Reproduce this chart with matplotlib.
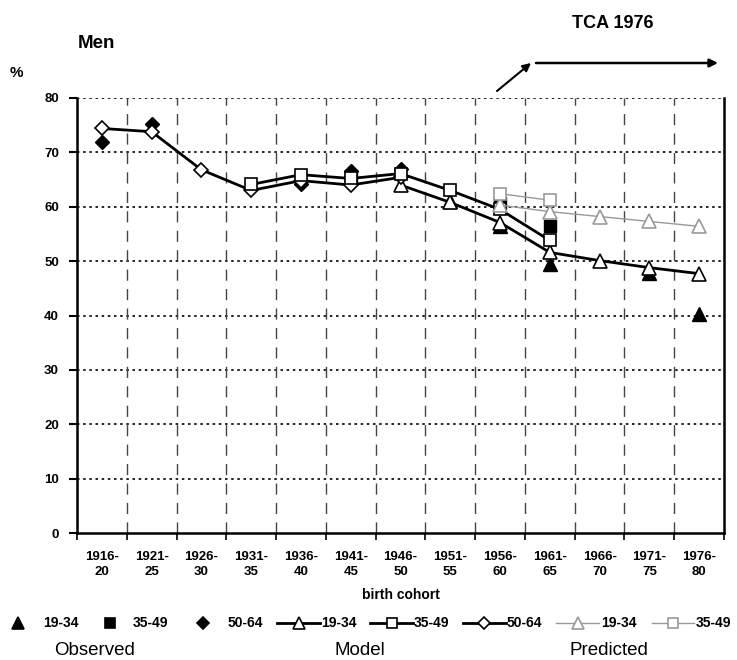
import matplotlib
matplotlib.use("Agg")
import matplotlib.pyplot as plt
from matplotlib.lines import Line2D
import numpy as np

plt.rcParams['font.family'] = ['Liberation Sans', 'DejaVu Sans']

cohorts = ['1916-\n20', '1921-\n25', '1926-\n30', '1931-\n35', '1936-\n40', '1941-\n45',
           '1946-\n50', '1951-\n55', '1956-\n60', '1961-\n65', '1966-\n70', '1971-\n75',
           '1976-\n80']
nan = np.nan

# observed
obs_19_34 = [nan, nan, nan, nan, nan, nan, nan, 61.0, 56.5, 49.5, nan, 47.8, 40.3]
obs_35_49 = [nan, nan, nan, nan, nan, 65.6, nan, nan, 60.6, 56.5, nan, nan, nan]
obs_50_64 = [72.0, 75.2, nan, nan, 64.2, 66.5, 66.9, nan, nan, nan, nan, nan, nan]
# model
mod_19_34 = [nan, nan, nan, nan, nan, nan, 64.0, 60.8, 57.1, 51.6, 50.1, 48.8, 47.7]
mod_35_49 = [nan, nan, nan, 64.1, 65.9, 65.2, 66.1, 63.0, 59.5, 53.8, nan, nan, nan]
mod_50_64 = [74.4, 73.8, 66.8, 63.0, 64.8, 64.0, 65.4, nan, nan, nan, nan, nan, nan]
# predicted
pred_19_34 = [nan, nan, nan, nan, nan, nan, nan, nan, 60.3, 59.1, 58.2, 57.3, 56.4]
pred_35_49 = [nan, nan, nan, nan, nan, nan, nan, nan, 62.4, 61.2, nan, nan, nan]

W, H = 737, 660
fig = plt.figure(figsize=(W / 100, H / 100), dpi=100)
ax = fig.add_axes([77 / W, 1 - 533 / H, (724 - 77) / W, (533 - 98) / H])

x = np.arange(len(cohorts))
ms_tri, ms_sq, ms_dia = 9.5, 8, 7

# observed (drawn first, sits below)
ax.plot(x, obs_19_34, ls='none', marker='^', ms=ms_tri, color='black', zorder=3)
ax.plot(x, obs_35_49, ls='none', marker='s', ms=ms_sq, color='black', zorder=3)
ax.plot(x, obs_50_64, ls='none', marker='D', ms=ms_dia, color='black', zorder=3)

# model
ax.plot(x, mod_19_34, color='black', lw=2, marker='^', ms=ms_tri, mfc='white', mec='black', mew=1.2, zorder=4)
ax.plot(x, mod_50_64, color='black', lw=2, marker='D', ms=ms_dia, mfc='white', mec='black', mew=1.2, zorder=4)
ax.plot(x, mod_35_49, color='black', lw=2, marker='s', ms=ms_sq, mfc='white', mec='black', mew=1.2, zorder=4)

# predicted
ax.plot(x, pred_19_34, color='#999999', lw=1, marker='^', ms=ms_tri, mfc='white', mec='#999999', mew=1.2, zorder=5)
ax.plot(x, pred_35_49, color='#999999', lw=1, marker='s', ms=ms_sq, mfc='white', mec='#999999', mew=1.2, zorder=5)

ax.set_xlim(-0.5, len(cohorts) - 0.5)
ax.set_ylim(0, 80)

# grid
for yv in range(10, 81, 10):
    ax.axhline(yv, color='black', lw=1.2, ls=(0, (1.5, 2.2)), zorder=1)
for xb in np.arange(0.5, len(cohorts) - 0.5, 1):
    ax.axvline(xb, color='#444444', lw=1, ls=(0, (8, 6)), zorder=1)

ax.spines['top'].set_visible(False)
for s in ['left', 'bottom', 'right']:
    ax.spines[s].set_linewidth(1.8)
    ax.spines[s].set_color('black')

ax.set_yticks(range(0, 81, 10))
ax.set_yticklabels([str(v) for v in range(0, 81, 10)], fontsize=9.5, fontweight='bold')
ax.tick_params(axis='y', direction='out', length=6, width=1.5, pad=7)

ax.set_xticks(np.arange(-0.5, len(cohorts), 1))
ax.set_xticklabels([])
ax.tick_params(axis='x', which='major', direction='out', length=5, width=1.2)
ax.set_xticks(x, minor=True)
ax.set_xticklabels(cohorts, minor=True, fontsize=9.5, fontweight='bold', linespacing=1.35)
ax.tick_params(axis='x', which='minor', length=0, pad=13)

ax.set_xlabel('birth cohort', fontsize=10, fontweight='bold', labelpad=7)

# texts
fig.text(10 / W, 1 - 73 / H, '%', fontsize=11, fontweight='bold', va='center', ha='left')
fig.text(78 / W, 1 - 43 / H, 'Men', fontsize=13.5, fontweight='bold', va='center', ha='left')
fig.text(613 / W, 1 - 23 / H, 'TCA 1976', fontsize=13, fontweight='bold', va='center', ha='center')

fig.add_artist(matplotlib.text.Annotation('', xy=(531 / W, 1 - 63 / H), xytext=(497 / W, 1 - 91 / H),
                                          xycoords='figure fraction',
                                          arrowprops=dict(arrowstyle='-|>', color='black', lw=1.5,
                                                          mutation_scale=12, shrinkA=0, shrinkB=0)))
fig.add_artist(matplotlib.text.Annotation('', xy=(718 / W, 1 - 63 / H), xytext=(536 / W, 1 - 63 / H),
                                          xycoords='figure fraction',
                                          arrowprops=dict(arrowstyle='-|>', color='black', lw=1.8,
                                                          mutation_scale=12, shrinkA=0, shrinkB=0)))

# legend
ly = 1 - 623 / H


def legend_item(x0, x1, marker, color, mfc, lw, label, tx, ms):
    if lw > 0:
        fig.add_artist(Line2D([x0 / W, x1 / W], [ly, ly], color=color, lw=lw, transform=fig.transFigure))
    fig.add_artist(Line2D([(x0 + x1) / 2 / W], [ly], marker=marker, ms=ms, color=color, mfc=mfc,
                          mec=color, mew=1.2, ls='none', transform=fig.transFigure))
    fig.text(tx / W, ly, label, fontsize=10, fontweight='bold', va='center', ha='left')


legend_item(18, 18, '^', 'black', 'black', 0, '19-34', 43, 8.5)
legend_item(110, 110, 's', 'black', 'black', 0, '35-49', 133, 7.5)
legend_item(203, 203, 'D', 'black', 'black', 0, '50-64', 228, 6.5)
legend_item(277, 320, '^', 'black', 'white', 2, '19-34', 321, 8.5)
legend_item(370, 413, 's', 'black', 'white', 2, '35-49', 414, 7.5)
legend_item(463, 506, 'D', 'black', 'white', 2, '50-64', 507, 6.5)
legend_item(556, 599, '^', '#999999', 'white', 1, '19-34', 601, 8.5)
legend_item(652, 694, 's', '#999999', 'white', 1, '35-49', 696, 7.5)

fig.text(95 / W, 5 / H, 'Observed', fontsize=13.5, va='baseline', ha='center')
fig.text(360 / W, 5 / H, 'Model', fontsize=13.5, va='baseline', ha='center')
fig.text(609 / W, 5 / H, 'Predicted', fontsize=13.5, va='baseline', ha='center')

fig.savefig('out.png', dpi=100)
